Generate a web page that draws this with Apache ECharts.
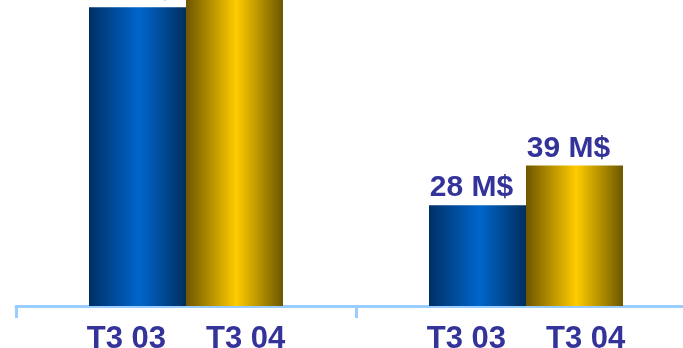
<!DOCTYPE html>
<html>
<head>
<meta charset="utf-8">
<style>
  html, body { margin: 0; padding: 0; background: #ffffff; }
  #chart { width: 683px; height: 348px; }
</style>
<script src="https://cdn.jsdelivr.net/npm/echarts@6/dist/echarts.min.js"></script>
</head>
<body>
<div id="chart"></div>
<script>
// Two comparison groups, each with a T3 03 and a T3 04 bar (values in M$)
const groups = ['A', 'B'];
const periods = ['T3 03', 'T3 04'];
const valuesT303 = [83, 28];
const valuesT304 = [100, 39];

const textColor = '#333399';
const font = 'Liberation Sans, Arial, sans-serif';

function barGradient(edgeLeft, mid, edgeRight) {
  return new echarts.graphic.LinearGradient(0, 0, 1, 0, [
    { offset: 0, color: edgeLeft },
    { offset: 0.52, color: mid },
    { offset: 1, color: edgeRight }
  ]);
}

const valueLabel = {
  show: true,
  position: 'top',
  distance: 2,
  offset: [-6, 0],
  formatter: p => p.value + ' M$',
  color: textColor,
  fontFamily: font,
  fontWeight: 'bold',
  fontSize: 30
};

const chart = echarts.init(document.getElementById('chart'), null, { renderer: 'canvas' });
chart.setOption({
  animation: false,
  backgroundColor: '#ffffff',
  grid: {
    left: 16, width: 680, top: 0, bottom: 42,
    containLabel: false,
    outerBoundsMode: 'none'
  },
  xAxis: {
    type: 'category',
    data: groups,
    axisLine: { show: true, lineStyle: { color: '#99ccff', width: 3 } },
    axisTick: { show: true, length: 12, lineStyle: { color: '#99ccff', width: 3 } },
    axisLabel: {
      margin: 18,
      formatter: () => '{p|' + periods[0] + '}{g|}{p|' + periods[1] + '}',
      rich: {
        p: { color: textColor, fontFamily: font, fontWeight: 'bold', fontSize: 31 },
        g: { width: 40 }
      }
    }
  },
  yAxis: {
    type: 'value',
    min: 0,
    max: 85,
    show: false,
    splitLine: { show: false }
  },
  series: [
    {
      name: periods[0],
      type: 'bar',
      data: valuesT303,
      barWidth: 97,
      barGap: '0%',
      clip: false,
      itemStyle: { color: barGradient('#002f66', '#0066cc', '#002e5e') },
      label: valueLabel
    },
    {
      name: periods[1],
      type: 'bar',
      data: valuesT304,
      barWidth: 97,
      barGap: '0%',
      clip: false,
      itemStyle: { color: barGradient('#6e5600', '#ffcc00', '#6b5700') },
      label: valueLabel
    }
  ]
});
</script>
</body>
</html>
